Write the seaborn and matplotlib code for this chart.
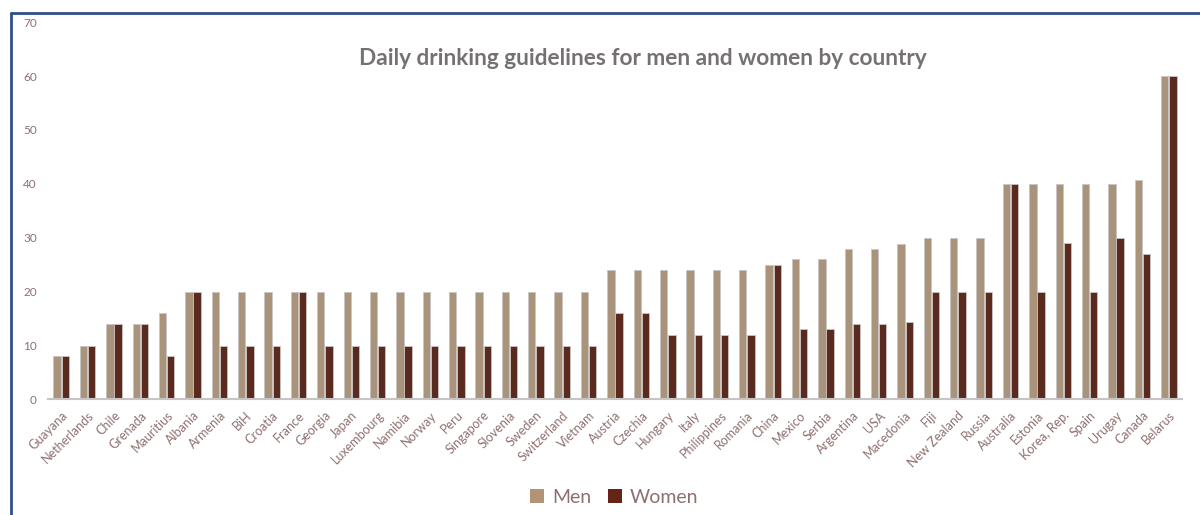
import matplotlib
matplotlib.use("Agg")
import matplotlib.pyplot as plt
import seaborn as sns
import pandas as pd
from matplotlib.lines import Line2D
from matplotlib.patches import Patch

countries = [
    "Guayana", "Netherlands", "Chile", "Grenada", "Mauritius", "Albania", "Armenia",
    "BiH", "Croatia", "France", "Georgia", "Japan", "Luxembourg", "Namibia", "Norway",
    "Peru", "Singapore", "Slovenia", "Sweden", "Switzerland", "Vietnam", "Austria",
    "Czechia", "Hungary", "Italy", "Philippines", "Romania", "China", "Mexico", "Serbia",
    "Argentina", "USA", "Macedonia", "Fiji", "New Zealand", "Russia", "Australia",
    "Estonia", "Korea, Rep.", "Spain", "Urugay", "Canada", "Belarus",
]
men = [8, 10, 14, 14, 16, 20, 20, 20, 20, 20, 20, 20, 20, 20, 20, 20, 20, 20, 20, 20,
       20, 24, 24, 24, 24, 24, 24, 25, 26, 26, 28, 28, 28.9, 30, 30, 30, 40, 40, 40, 40,
       40, 40.8, 60]
women = [8, 10, 14, 14, 8, 20, 10, 10, 10, 20, 10, 10, 10, 10, 10, 10, 10, 10, 10, 10,
         10, 16, 16, 12, 12, 12, 12, 25, 13, 13, 14, 14, 14.4, 20, 20, 20, 40, 20, 29, 20,
         30, 27, 60]
series = ["Men", "Women"]
y_ticks = [0, 10, 20, 30, 40, 50, 60, 70]

MEN_COLOR = "#B09474"
WOMEN_COLOR = "#652415"
LABEL_COLOR = "#8E7070"
FONT = ["Lato", "DejaVu Sans"]

df = pd.DataFrame({
    "country": countries * 2,
    "value": men + women,
    "sex": [series[0]] * len(men) + [series[1]] * len(women),
})

sns.set_theme(style="white")
plt.rcParams["font.family"] = FONT

fig = plt.figure(figsize=(12, 5.15), dpi=100)
ax = fig.add_axes([0.04, 0.2243, 0.945, 0.7327])

sns.barplot(
    data=df, x="country", y="value", hue="sex", order=countries,
    palette=[MEN_COLOR, WOMEN_COLOR], width=0.62, gap=0.1,
    edgecolor="#C9C4C4", linewidth=0.6, ax=ax, legend=False,
)

ax.set_xlim(-0.5, len(countries) - 0.5)
ax.set_ylim(0, 70)
ax.set_yticks(y_ticks)
ax.set_yticklabels([str(t) for t in y_ticks], fontsize=8.5, color=LABEL_COLOR)
ax.set_xticks(range(len(countries)))
ax.set_xticklabels(countries, rotation=45, ha="right", rotation_mode="anchor",
                   fontsize=9, color=LABEL_COLOR)
ax.tick_params(axis="x", length=0, pad=7)
ax.tick_params(axis="y", length=0, pad=8)
ax.set_xlabel("")
ax.set_ylabel("")
for side in ["top", "right", "left"]:
    ax.spines[side].set_visible(False)
ax.spines["bottom"].set_color("#C8C4C4")
ax.spines["bottom"].set_linewidth(1.5)

fig.text(0.536, 0.887, "Daily drinking guidelines for men and women by country",
         ha="center", va="center", fontsize=16.3, fontweight="bold", color="#767171")

handles = [Patch(facecolor=MEN_COLOR, edgecolor="none"),
           Patch(facecolor=WOMEN_COLOR, edgecolor="none")]
fig.legend(handles, series, loc="center", bbox_to_anchor=(0.512, 0.034), ncol=2,
           frameon=False, fontsize=14, labelcolor=LABEL_COLOR, handlelength=0.7,
           handleheight=0.7, handletextpad=0.4, columnspacing=0.9)

# frame lines along the top and left edges of the figure
fig.add_artist(Line2D([0.0092, 1.0], [0.975, 0.975], transform=fig.transFigure,
                      color="#2F4F8A", linewidth=2))
fig.add_artist(Line2D([0.0092, 0.0092], [0.0, 0.975], transform=fig.transFigure,
                      color="#2F4F8A", linewidth=2))

fig.savefig("out.png", dpi=100, facecolor="white")
